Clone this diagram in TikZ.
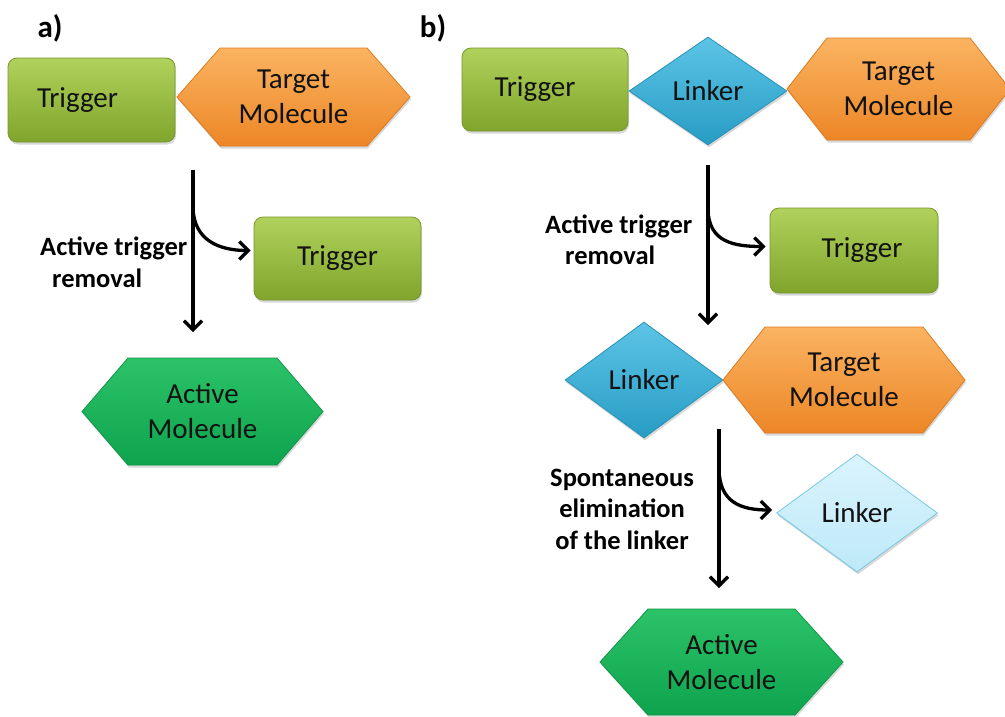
\documentclass[tikz,border=0pt]{standalone}
\usepackage{fontspec}
\setmainfont{Carlito}
\usetikzlibrary{arrows.meta,shapes.geometric,shadows,calc}

\definecolor{trigtop}{RGB}{176,210,92}
\definecolor{trigbot}{RGB}{128,164,44}
\definecolor{trigedge}{RGB}{120,152,44}
\definecolor{orgtop}{RGB}{251,180,98}
\definecolor{orgbot}{RGB}{236,134,38}
\definecolor{orgedge}{RGB}{222,122,30}
\definecolor{lnktop}{RGB}{92,196,230}
\definecolor{lnkbot}{RGB}{40,156,196}
\definecolor{lnkedge}{RGB}{40,146,182}
\definecolor{paletop}{RGB}{218,244,253}
\definecolor{palebot}{RGB}{190,233,248}
\definecolor{paleedge}{RGB}{120,200,228}
\definecolor{acttop}{RGB}{44,194,104}
\definecolor{actbot}{RGB}{14,164,78}
\definecolor{actedge}{RGB}{16,150,72}
\definecolor{ink}{RGB}{18,18,18}

\tikzset{
  softshadow/.style={drop shadow={opacity=0.3,shadow xshift=1pt,shadow yshift=-2.5pt}},
  shapetext/.style={font=\fontsize{29}{35}\selectfont,text=ink,align=center,inner sep=0pt},
  caption/.style={font=\bfseries\fontsize{26.5}{31.5}\selectfont,text=black,inner sep=0pt},
  paneltag/.style={font=\bfseries\fontsize{31}{36}\selectfont,text=black,inner sep=0pt},
  trigbox/.style={shapetext,rectangle,rounded corners=9pt,top color=trigtop,bottom color=trigbot,
    draw=trigedge,line width=0.8pt,softshadow},
  linkbox/.style={shapetext,diamond,top color=lnktop,bottom color=lnkbot,
    draw=lnkedge,line width=0.8pt,softshadow},
  palebox/.style={shapetext,diamond,top color=paletop,bottom color=palebot,
    draw=paleedge,line width=0.8pt,softshadow},
  orangefill/.style={top color=orgtop,bottom color=orgbot,draw=orgedge,line width=0.8pt,softshadow},
  greenfill/.style={top color=acttop,bottom color=actbot,draw=actedge,line width=0.8pt,softshadow},
  flow/.style={line width=3.3pt,draw=black,
    -{Straight Barb[length=9pt,width=18pt,line width=3.3pt]}},
}

% hexagon: name, centre x, centre y, width, height, corner inset, fill style, text
\newcommand\hexnode[8]{%
  \path[#7] ({#2-#4/2},#3) -- ({#2-#4/2+#6},{#3-#5/2}) -- ({#2+#4/2-#6},{#3-#5/2})
    -- ({#2+#4/2},#3) -- ({#2+#4/2-#6},{#3+#5/2}) -- ({#2-#4/2+#6},{#3+#5/2}) -- cycle;
  \node[shapetext,minimum width=#4pt,minimum height=#5pt] (#1) at (#2,#3) {#8};}

\begin{document}
\begin{tikzpicture}[x=1pt,y=-1pt]
\clip (0,0) rectangle (1005,716);
\fill[white] (0,0) rectangle (1005,716);

% ---- panel a ----
\node[paneltag] (tagA) at (50,28) {a)};
\node[trigbox,minimum width=167pt,minimum height=84pt] (trigA) at (91.5,100) {Trigger\kern28pt};
\hexnode{tarA}{293.5}{97}{233}{98}{43}{orangefill}{Target\\Molecule}

\node[trigbox,minimum width=167pt,minimum height=83pt] (trigA2) at (337.5,258.5) {Trigger};
\hexnode{actA}{202.5}{411.5}{241}{107}{46}{greenfill}{Active\\Molecule}

\coordinate (a1) at (193,170);
\coordinate (a2) at (193,332);
\coordinate (a3) at (193,208);
\coordinate (tipA) at ($(trigA2.west)+(-3,-8)$);
\draw[flow] (a1) -- (a2);
\draw[flow] (a3) .. controls ($(a3)+(1,32)$) and ($(tipA)+(-32,0)$) .. (tipA);
\node[caption,anchor=west,align=left] (capA) at (40,262.5) {Active trigger\\\kern12pt removal};

% ---- panel b ----
\node[paneltag] (tagB) at (433,28) {b)};
\node[trigbox,minimum width=166pt,minimum height=83pt] (trigB) at (545,89.5) {Trigger\kern20pt};
\node[linkbox,minimum width=158pt,minimum height=108pt] (linkB) at (708,91) {Linker};
\hexnode{tarB}{898.5}{89}{223}{102}{40}{orangefill}{Target\\Molecule}

\node[trigbox,minimum width=168pt,minimum height=85pt] (trigB2) at (854,250.5) {\kern16pt Trigger};
\coordinate (b1) at (708,165);
\coordinate (b2) at (708,325);
\coordinate (b3) at (708,210);
\coordinate (tipB) at ($(trigB2.west)+(-4,-4)$);
\draw[flow] (b1) -- (b2);
\draw[flow] (b3) .. controls ($(b3)+(1,32)$) and ($(tipB)+(-32,0)$) .. (tipB);
\node[caption,anchor=west,align=left] (capB) at (545,240) {Active trigger\\\kern20pt removal};

\node[linkbox,minimum width=158pt,minimum height=116pt] (linkM) at (644,380) {Linker};
\hexnode{tarM}{844}{380}{242}{106}{42}{orangefill}{Target\\Molecule}

\node[palebox,minimum width=161pt,minimum height=118pt] (linkP) at (857,513) {Linker};
\coordinate (c1) at (719,429);
\coordinate (c2) at (719,588);
\coordinate (c3) at (719,470);
\coordinate (tipC) at ($(linkP.west)+(-4,-3)$);
\draw[flow] (c1) -- (c2);
\draw[flow] (c3) .. controls ($(c3)+(1,32)$) and ($(tipC)+(-32,0)$) .. (tipC);
\node[caption,align=center] (capC) at (622,509) {Spontaneous\\elimination\\of the linker};

\hexnode{actB}{721.5}{662}{243}{106}{48}{greenfill}{Active\\Molecule}
\end{tikzpicture}
\end{document}
